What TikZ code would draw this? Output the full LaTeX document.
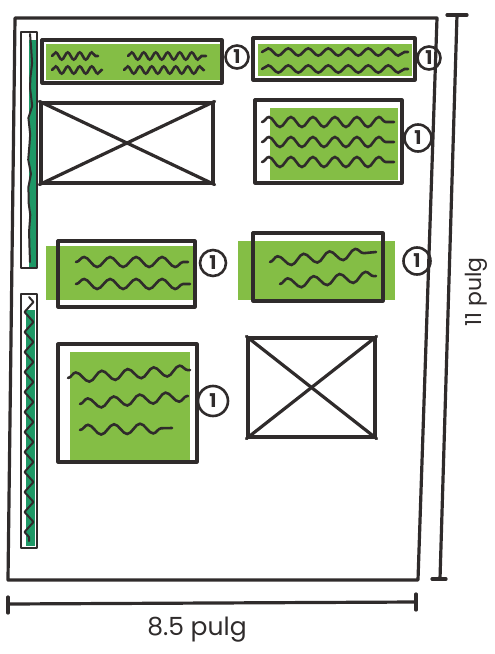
\documentclass[tikz,border=0pt]{standalone}
\usepackage{fontspec}
\setmainfont{Poppins}
\usetikzlibrary{decorations.pathmorphing,calc}
\definecolor{inkc}{HTML}{2F2B2B}
\definecolor{hlc}{HTML}{84BE45}
\definecolor{tealc}{HTML}{1E9866}
\begin{document}
\begin{tikzpicture}[x=1pt,y=-1pt,
  ink/.style={draw=inkc, line width=3.2pt, line cap=round, line join=round},
  thinink/.style={draw=inkc, line width=2pt, line cap=round, line join=round},
  frame/.style={ink, rectangle, inner sep=0pt},
  wave/.style={draw=inkc, line width=2.6pt, line cap=round, decorate,
    decoration={snake, segment length=26pt, amplitude=5pt}},
  wavesm/.style={draw=inkc, line width=2.6pt, line cap=round, decorate,
    decoration={snake, segment length=12pt, amplitude=3.6pt}},
  num/.style={circle, draw=inkc, line width=2.6pt, inner sep=0pt,
    minimum size=#1, font=\bfseries\fontsize{19}{19}\selectfont, text=inkc},
  num/.default=23pt,
  dimtxt/.style={font=\fontsize{25}{25}\selectfont, text=inkc}]
\useasboundingbox (0,0) rectangle (495,654);

% page
\coordinate (p1) at (15,18);
\coordinate (p2) at (437,18);
\coordinate (p3) at (418,580);
\coordinate (p4) at (8,580);
\draw[ink] (p1) -- (p2) -- (p3) -- (p4) -- cycle;

% sidebar
\fill[tealc] (29,40) rectangle (36,268);
\fill[tealc] (26,310) rectangle (35,546);
\node[thinink, rectangle, minimum width=16pt, minimum height=236pt] (sb1) at (29,150) {};
\node[thinink, rectangle, minimum width=16pt, minimum height=254pt] (sb2) at (29,421) {};
\draw[thinink, decorate, decoration={random steps, segment length=14pt, amplitude=2.5pt}]
  (sb1.north) ++(1,3) -- ++(0,228);
\draw[thinink, decorate, decoration={zigzag, segment length=20pt, amplitude=4.5pt}]
  (sb2.north) ++(0,4) -- ++(0,244);

% box 1 : top-left header
\fill[hlc] (46,44) rectangle (220,80);
\node[frame, minimum width=180pt, minimum height=43pt] (b1) at (132,61.5) {};
\draw[wavesm] (52,56) -- (98,56);
\draw[wavesm] (128,56) -- (206,56);
\draw[wavesm] (52,70) -- (102,70);
\draw[wavesm] (124,70) -- (204,70);
\node[num] (c1) at (237,57) {1};

% box 2 : top-left image
\node[frame, minimum width=172pt, minimum height=80pt] (b2) at (127,143) {};
\draw[ink] (b2.north west) -- (b2.south east);
\draw[ink] (b2.north east) -- (b2.south west);

% box 3 : top-right header
\fill[hlc] (258,44) rectangle (412,76);
\node[frame, minimum width=162pt, minimum height=42pt] (b3) at (334,59) {};
\draw[wave, decoration={snake, segment length=20pt, amplitude=3.6pt}] (262,52) -- (408,52);
\draw[wave, decoration={snake, segment length=20pt, amplitude=3.6pt}] (262,69) -- (408,69);
\node[num] (c2) at (429,58) {1};

% box 4 : right text block
\fill[hlc] (270,108) rectangle (398,180);
\node[frame, minimum width=147pt, minimum height=83pt] (b4) at (328.5,141.5) {};
\draw[wave, decoration={snake, segment length=22pt, amplitude=5pt}] (262,122) -- (394,122);
\draw[wave, decoration={snake, segment length=22pt, amplitude=5pt}] (262,142) -- (394,142);
\draw[wave, decoration={snake, segment length=22pt, amplitude=5pt}] (262,162) -- (394,162);
\node[num=27pt] (c3) at (418,138) {1};

% box 5 : row 2 left
\fill[hlc] (46,246) rectangle (196,300);
\node[frame, minimum width=137pt, minimum height=66pt] (b5) at (126.5,274) {};
\draw[wave] (76,262) -- (188,262);
\draw[wave] (76,284) -- (190,284);
\node[num=26pt] (c4) at (213,263) {1};

% box 6 : row 2 right
\fill[hlc] (238,241) rectangle (395,300);
\node[frame, minimum width=130pt, minimum height=68pt] (b6) at (318,267) {};
\draw[wave] (270,262) -- (376,252);
\draw[wave] (280,284) -- (376,276);
\node[num=27pt] (c5) at (417,261) {1};

% box 7 : row 3 left tall
\fill[hlc] (70,352) rectangle (190,462);
\node[frame, minimum width=139pt, minimum height=118pt] (b7) at (127.5,403) {};
\draw[wave] (68,378) -- (190,370);
\draw[wave] (80,404) -- (188,396);
\draw[wave] (80,430) -- (172,428);
\node[num=30pt] (c6) at (213,401) {1};

% box 8 : row 3 right image
\node[frame, minimum width=127pt, minimum height=99pt] (b8) at (311.5,387.5) {};
\draw[ink] (b8.north west) -- (b8.south east);
\draw[ink] (b8.north east) -- (b8.south west);

% vertical dimension
\coordinate (v1) at (457,15);
\coordinate (v2) at (440,579);
\draw[ink] (v1) -- (v2);
\draw[ink] ($(v1)+(-10,0)$) -- ++(20,0);
\draw[ink] (v2) -- ++(-8,0) (v2) -- ++(6,0);
\node[dimtxt, font=\fontsize{22}{22}\selectfont, rotate=90] (vl) at (476,292) {11 pulg};

% horizontal dimension
\coordinate (h1) at (8,604);
\coordinate (h2) at (416,602);
\draw[ink] (h1) -- (h2);
\draw[ink] ($(h1)+(0,-7)$) -- ++(0,16);
\draw[ink] ($(h2)+(0,-8)$) -- ++(0,16);
\node[dimtxt] (hl) at (197,630) {8.5 pulg};
\end{tikzpicture}
\end{document}
